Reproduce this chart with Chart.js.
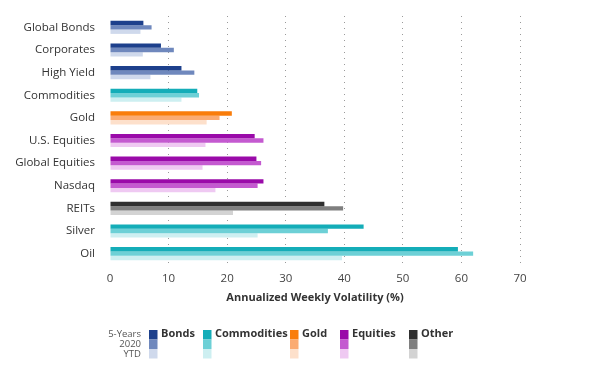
<!DOCTYPE html>
<html>
<head>
<meta charset="utf-8">
<script src="https://cdn.jsdelivr.net/npm/chart.js@4"></script>
<style>
  html, body { margin: 0; padding: 0; background: #fff; }
  #wrap { width: 595px; height: 374px; position: relative; }
</style>
</head>
<body>
<div id="wrap"><canvas id="chart"></canvas></div>
<script>
// Données
const categories = ['Global Bonds', 'Corporates', 'High Yield', 'Commodities', 'Gold',
    'U.S. Equities', 'Global Equities', 'Nasdaq', 'REITs', 'Silver', 'Oil'];
const fiveYears = [5.7, 8.7, 12.2, 14.9, 20.8, 24.7, 25.0, 26.2, 36.6, 43.3, 59.4];
const year2020 = [7.1, 10.9, 14.4, 15.2, 18.7, 26.2, 25.8, 25.2, 39.8, 37.2, 62.0];
const ytd = [5.2, 5.6, 6.9, 12.2, 16.5, 16.3, 15.8, 18.0, 21.0, 25.2, 39.6];
const groupOf = ['Bonds', 'Bonds', 'Bonds', 'Commodities', 'Gold',
    'Equities', 'Equities', 'Equities', 'Other', 'Commodities', 'Commodities'];
const periods = ['5-Years', '2020', 'YTD'];
const groups = ['Bonds', 'Commodities', 'Gold', 'Equities', 'Other'];

// Couleurs par groupe : [5 ans, 2020, YTD]
const palette = {
    Bonds: ['#1d408c', '#6f88bd', '#cfd9ec'],
    Commodities: ['#14adb8', '#6dd0d6', '#cdeff1'],
    Gold: ['#f97d0b', '#fbab72', '#fde0cb'],
    Equities: ['#9a0aa9', '#c45ad0', '#efc9f2'],
    Other: ['#2f2f2f', '#7f7f7f', '#d3d3d3']
};

const font = "'Open Sans', sans-serif";

function colorsFor(period) {
    return groupOf.map(g => palette[g][period]);
}

// Légende personnalisée dessinée sous le graphique
const legendPlugin = {
    id: 'customLegend',
    afterDraw(chart) {
        const ctx = chart.ctx;
        const rowY = [334, 344, 354];
        ctx.save();
        ctx.font = `9.5px ${font}`;
        ctx.fillStyle = '#555';
        ctx.textAlign = 'right';
        ctx.textBaseline = 'middle';
        periods.forEach((p, i) => ctx.fillText(p, 141, rowY[i]));

        const swatchX = [149, 203, 290, 340, 409];
        groups.forEach((g, gi) => {
            const x = swatchX[gi];
            palette[g].forEach((c, i) => {
                ctx.fillStyle = c;
                ctx.fillRect(x, 330 + i * 9.5, 8.5, 9.5);
            });
            ctx.fillStyle = '#333';
            ctx.textAlign = 'left';
            ctx.font = `bold 11px ${font}`;
            ctx.fillText(g, x + 12, 334);
        });
        ctx.restore();
    }
};

const datasets = periods.map((p, i) => ({
    label: p,
    data: [fiveYears, year2020, ytd][i],
    backgroundColor: colorsFor(i),
    borderWidth: 0,
    categoryPercentage: 0.58,
    barPercentage: 1.0
}));

new Chart(document.getElementById('chart'), {
    type: 'bar',
    data: { labels: categories, datasets: datasets },
    options: {
        indexAxis: 'y',
        responsive: true,
        maintainAspectRatio: false,
        animation: false,
        layout: { padding: { top: 16, right: 75, bottom: 60, left: 0 } },
        plugins: {
            legend: { display: false },
            tooltip: { enabled: false }
        },
        scales: {
            x: {
                min: 0,
                max: 70,
                afterFit: s => { s.height = 49; },
                border: { display: false, dash: [1, 5] },
                grid: {
                    drawTicks: false,
                    color: c => c.tick && c.tick.value === 0 ? 'rgba(0,0,0,0)' : '#9a9a9a',
                    lineWidth: 1
                },
                ticks: {
                    stepSize: 10,
                    padding: 7,
                    color: '#444',
                    font: { family: font, size: 11.5 }
                },
                title: {
                    display: true,
                    text: 'Annualized Weekly Volatility (%)',
                    color: '#333',
                    font: { family: font, size: 11, weight: 'bold' },
                    padding: { top: 4, bottom: 10 }
                }
            },
            y: {
                afterFit: s => {
                    s.width = 110;
                    s.paddingTop = 0;
                    s.paddingBottom = 0;
                },
                border: { display: false },
                grid: { display: false, drawTicks: false },
                ticks: {
                    padding: 15,
                    color: '#333',
                    font: { family: font, size: 11.5 }
                }
            }
        }
    },
    plugins: [legendPlugin]
});
</script>
</body>
</html>
